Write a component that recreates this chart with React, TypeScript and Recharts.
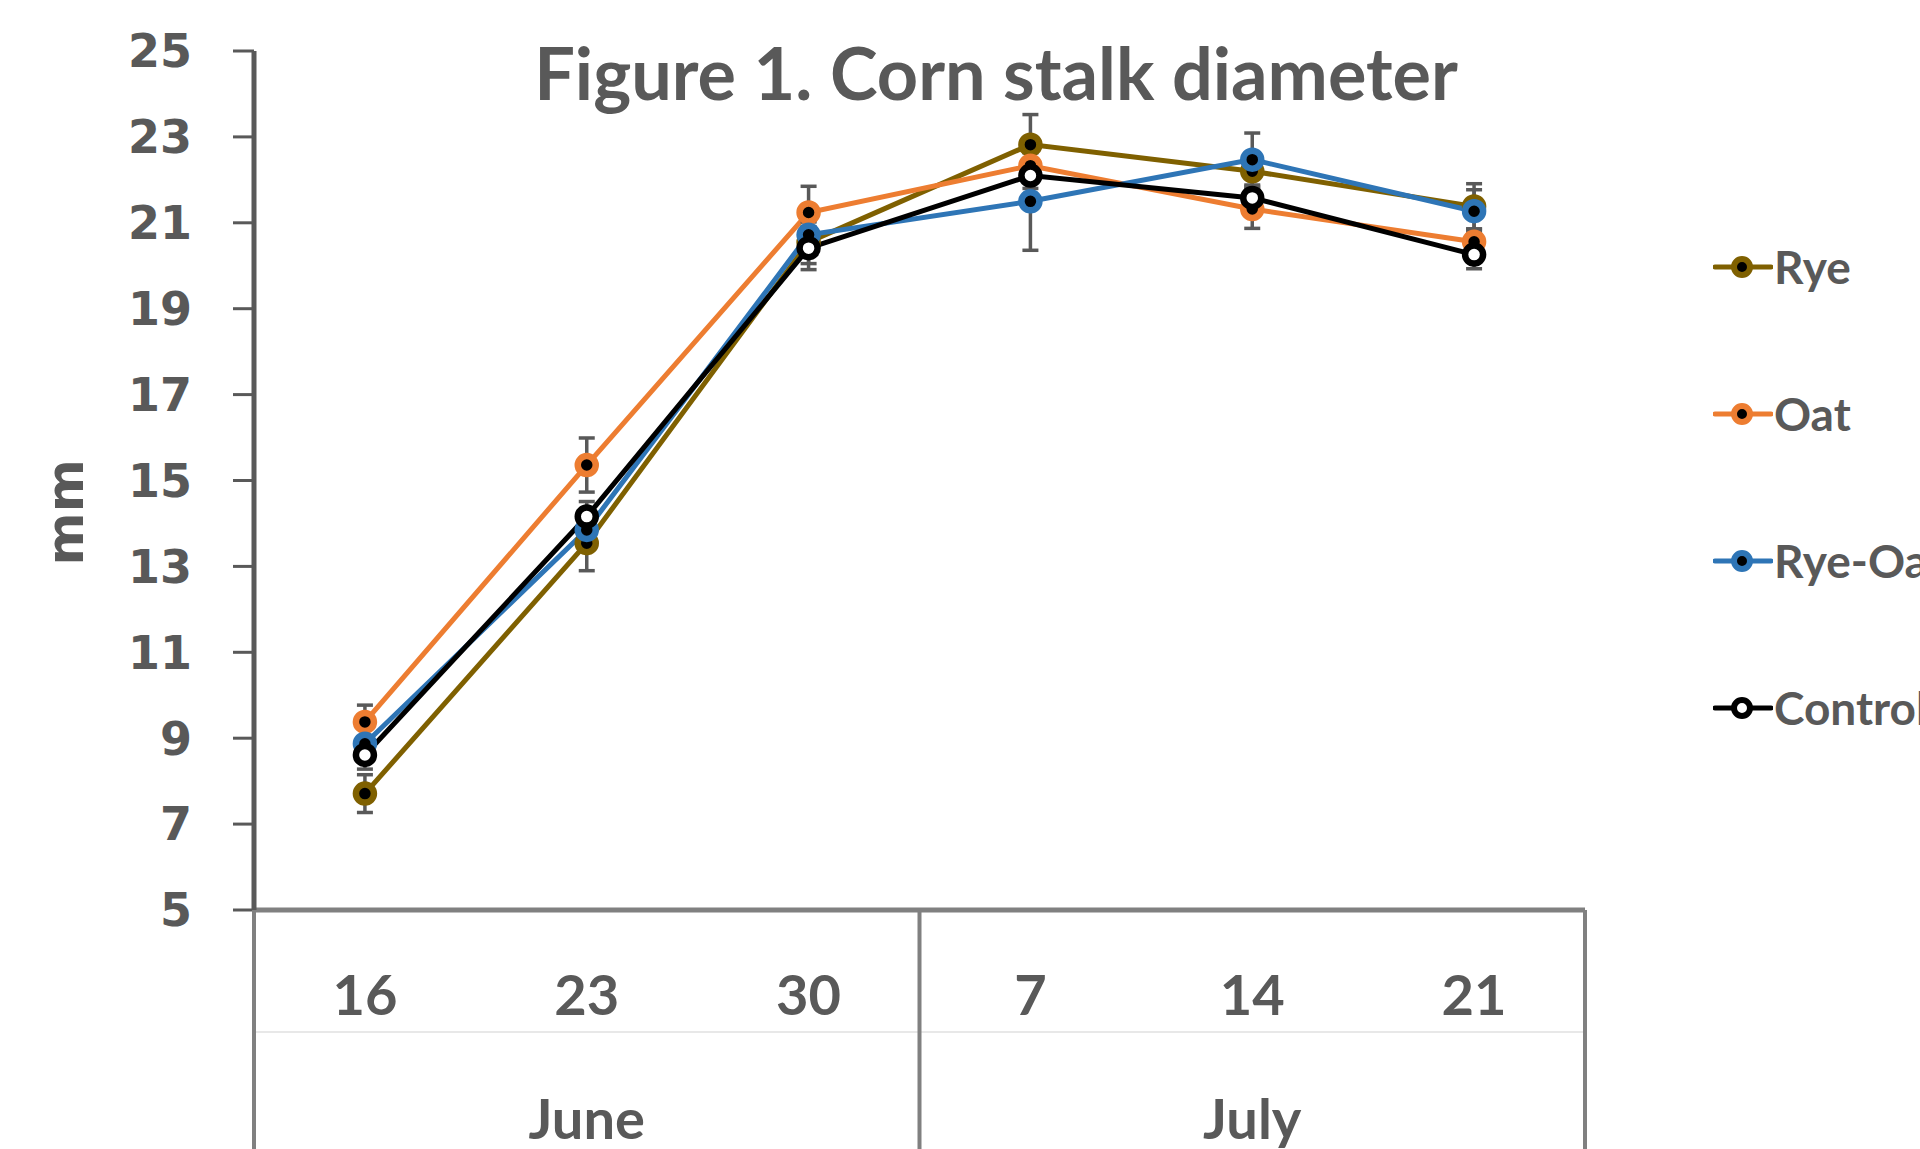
import { ErrorBar, Legend, Line, LineChart, XAxis, YAxis } from "recharts";

const days = ["16", "23", "30", "7", "14", "21"];
const months = ["June", "June", "June", "July", "July", "July"];
const yTicks = [5, 7, 9, 11, 13, 15, 17, 19, 21, 23, 25];

const rye = [7.71, 13.54, 20.55, 22.82, 22.2, 21.38];
const ryeErr = [0.44, 0.64, 0.5, 0.7, 0.4, 0.53];
const oat = [9.38, 15.36, 21.24, 22.33, 21.32, 20.56];
const oatErr = [0.39, 0.63, 0.61, 0.3, 0.45, 0.3];
const ryeOat = [8.87, 13.85, 20.72, 21.5, 22.47, 21.27];
const ryeOatErr = [0.35, 0.4, 0.3, 1.14, 0.62, 0.5];
const control = [8.61, 14.16, 20.41, 22.1, 21.58, 20.26];
const controlErr = [0.33, 0.35, 0.5, 0.3, 0.3, 0.33];

const series = [
  { key: "rye", name: "Rye", color: "#7F6000", fill: "#000000" },
  { key: "oat", name: "Oat", color: "#ED7D31", fill: "#000000" },
  { key: "ryeOat", name: "Rye-Oat", color: "#2E75B6", fill: "#000000" },
  { key: "control", name: "Control", color: "#000000", fill: "#FFFFFF" },
];

const data = days.map((day, i) => ({
  day,
  rye: rye[i],
  ryeErr: ryeErr[i],
  oat: oat[i],
  oatErr: oatErr[i],
  ryeOat: ryeOat[i],
  ryeOatErr: ryeOatErr[i],
  control: control[i],
  controlErr: controlErr[i],
}));

const WIDTH = 1920;
const HEIGHT = 1149;
const PLOT_LEFT = 254;
const PLOT_RIGHT = 1585;
const BAND = (PLOT_RIGHT - PLOT_LEFT) / days.length;
const TEXT = "#595959";
const LABEL_FONT = "Lato, 'Open Sans', sans-serif";

// day labels + the vertical group separators of the two-row axis
const DayTick = (props: any) => {
  const { x, y, index, payload } = props;
  const start = index === 0 || months[index] !== months[index - 1];
  const last = index === days.length - 1;
  return (
    <g>
      <text
        x={x}
        y={y + 83}
        textAnchor="middle"
        dominantBaseline="central"
        fill={TEXT}
        fontSize={56}
        fontWeight="bold"
        fontFamily={LABEL_FONT}
      >
        {payload.value}
      </text>
      {start && (
        <line x1={x - BAND / 2} x2={x - BAND / 2} y1={y} y2={HEIGHT} stroke="#808080" strokeWidth={4} />
      )}
      {last && (
        <line x1={x + BAND / 2} x2={x + BAND / 2} y1={y} y2={HEIGHT} stroke="#808080" strokeWidth={4} />
      )}
    </g>
  );
};

const MonthTick = (props: any) => {
  const { x, y, index } = props;
  let s = index;
  while (s > 0 && months[s - 1] === months[index]) s--;
  let e = index;
  while (e < months.length - 1 && months[e + 1] === months[index]) e++;
  if (index !== Math.floor((s + e) / 2)) return <g />;
  return (
    <text
      x={x + ((s + e) / 2 - index) * BAND}
      y={y + 85}
      textAnchor="middle"
      dominantBaseline="central"
      fill={TEXT}
      fontSize={56}
      fontWeight="bold"
      fontFamily={LABEL_FONT}
    >
      {months[index]}
    </text>
  );
};

const renderLegend = (props: any) => {
  const payload = [...(props.payload || [])].sort(
    (a: any, b: any) =>
      series.findIndex((d) => d.name === a.value) - series.findIndex((d) => d.name === b.value)
  );
  return (
    <div>
      {payload.map((item: any) => {
        const s = series.find((d) => d.name === item.value) || series[0];
        return (
          <div key={item.value} style={{ height: 147, display: "flex", alignItems: "center" }}>
            <svg width={60} height={30} style={{ flex: "none" }}>
              <line x1={2} x2={58} y1={15} y2={15} stroke={s.color} strokeWidth={5} strokeLinecap="round" />
              <circle cx={29} cy={15} r={8} fill={s.fill} stroke={s.color} strokeWidth={6} />
            </svg>
            <span
              style={{
                color: TEXT,
                fontFamily: LABEL_FONT,
                fontWeight: "bold",
                fontSize: 46,
                marginLeft: 1,
                whiteSpace: "nowrap",
              }}
            >
              {item.value}
            </span>
          </div>
        );
      })}
    </div>
  );
};

export default function App() {
  return (
    <div style={{ position: "relative", width: WIDTH, height: HEIGHT, overflow: "hidden", background: "#fff" }}>
      <style>{"body{margin:0}"}</style>
      <div
        style={{
          position: "absolute",
          left: 996 - 600,
          width: 1200,
          top: 32,
          height: 80,
          lineHeight: "80px",
          textAlign: "center",
          color: TEXT,
          fontFamily: LABEL_FONT,
          fontWeight: "bold",
          fontSize: 72,
          zIndex: 1,
          pointerEvents: "none",
        }}
      >
        Figure 1. Corn stalk diameter
      </div>
      <LineChart width={WIDTH} height={HEIGHT} data={data} margin={{ top: 51, right: WIDTH - PLOT_RIGHT, left: 0, bottom: 0 }}>
        <XAxis
          xAxisId="day"
          dataKey="day"
          height={122}
          interval={0}
          padding={{ left: BAND / 2, right: BAND / 2 }}
          tickSize={0}
          tickMargin={0}
          tickLine={false}
          axisLine={{ stroke: "#808080", strokeWidth: 5 }}
          tick={<DayTick />}
        />
        <XAxis
          xAxisId="month"
          dataKey="day"
          height={117}
          interval={0}
          padding={{ left: BAND / 2, right: BAND / 2 }}
          tickSize={0}
          tickMargin={0}
          tickLine={false}
          axisLine={{ stroke: "#e8e8e8", strokeWidth: 2 }}
          tick={<MonthTick />}
        />
        <YAxis
          domain={[5, 25]}
          ticks={yTicks}
          interval={0}
          width={PLOT_LEFT}
          tickSize={21}
          tickMargin={41}
          axisLine={{ stroke: "#595959", strokeWidth: 5 }}
          tickLine={{ stroke: "#595959", strokeWidth: 3 }}
          tick={{ fill: TEXT, fontSize: 46, fontWeight: "bold", fontFamily: "'DejaVu Sans', sans-serif" }}
          label={{
            value: "mm",
            angle: -90,
            position: "insideLeft",
            dx: 60,
            dy: 85,
            fill: TEXT,
            fontSize: 51,
            fontWeight: "bold",
            fontFamily: "'DejaVu Sans', sans-serif",
          }}
        />
        <Legend
          layout="vertical"
          align="center"
          verticalAlign="middle"
          content={renderLegend}
          wrapperStyle={{ position: "absolute", left: 1713, top: 193, width: 207 }}
        />
        {series.map((s) => (
          <Line
            key={s.key}
            xAxisId="day"
            type="linear"
            dataKey={s.key}
            name={s.name}
            stroke={s.color}
            strokeWidth={5}
            dot={{ r: 9, stroke: s.color, strokeWidth: 6.5, fill: s.fill }}
            activeDot={false}
            isAnimationActive={false}
          >
            <ErrorBar dataKey={`${s.key}Err`} direction="y" width={8} strokeWidth={3.5} stroke="#595959" />
          </Line>
        ))}
      </LineChart>
    </div>
  );
}
